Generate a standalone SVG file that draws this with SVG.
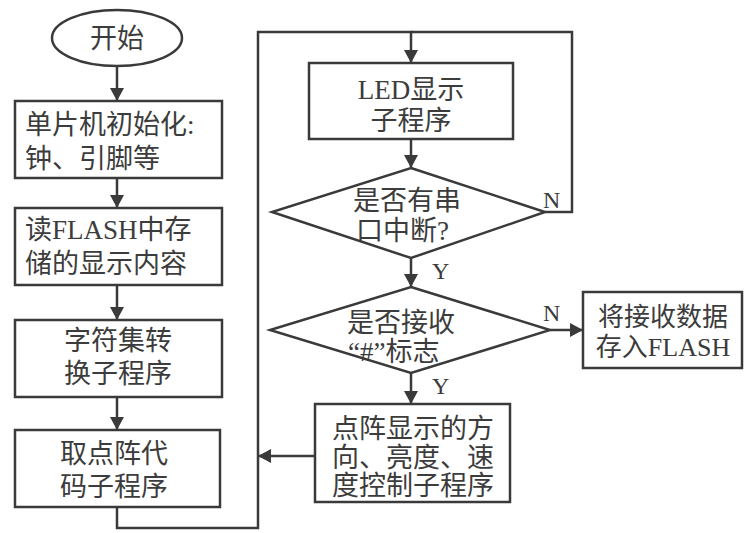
<svg xmlns="http://www.w3.org/2000/svg" width="747" height="533" viewBox="0 0 747 533">
<defs>
<style>
.shape{fill:none;stroke:#3a3a3a;stroke-width:2.5}
.conn{fill:none;stroke:#3a3a3a;stroke-width:2.5}
.t{font-family:"Liberation Serif","Noto Sans CJK SC",serif;font-size:27px;fill:#3c3c3c}
.s{font-size:26px}
.m{text-anchor:middle}
.lbl{font-family:"Liberation Serif",serif;font-size:24px;fill:#3c3c3c}
</style>
<marker id="ah" markerUnits="userSpaceOnUse" markerWidth="14" markerHeight="14" refX="12" refY="7" orient="auto">
<path d="M0,0 L13,7 L0,14 Z" fill="#3a3a3a"/>
</marker>
</defs>
<rect width="747" height="533" fill="#ffffff"/>
<g id="connectors">
<path class="conn" d="M117,67 V100" marker-end="url(#ah)"/>
<path class="conn" d="M117,178 V207" marker-end="url(#ah)"/>
<path class="conn" d="M117,285 V319" marker-end="url(#ah)"/>
<path class="conn" d="M117,397 V429" marker-end="url(#ah)"/>
<path class="conn" d="M117,507 V528 H258 V32 H411 V62" marker-end="url(#ah)"/>
<path class="conn" d="M545,212 H572 V32 H411"/>
<path class="conn" d="M411,139 V167" marker-end="url(#ah)"/>
<path class="conn" d="M411,258 V286" marker-end="url(#ah)"/>
<path class="conn" d="M550,330 H582" marker-end="url(#ah)"/>
<path class="conn" d="M411,373 V403" marker-end="url(#ah)"/>
<path class="conn" d="M315,456 H259" marker-end="url(#ah)"/>
<text class="lbl" x="543" y="208">N</text>
<text class="lbl" x="432" y="279">Y</text>
<text class="lbl" x="543" y="321">N</text>
<text class="lbl" x="432" y="394">Y</text>
</g>
<g id="start">
<ellipse class="shape" cx="117" cy="38" rx="65" ry="28"/>
<text class="t m" x="117" y="48">开始</text>
</g>
<g id="init">
<rect class="shape" x="15" y="101" width="207" height="77"/>
<text class="t" x="25" y="134">单片机初始化:</text>
<text class="t" x="25" y="168">钟、引脚等</text>
</g>
<g id="readflash">
<rect class="shape" x="15" y="208" width="207" height="77"/>
<text class="t" x="25" y="239">读FLASH中存</text>
<text class="t" x="25" y="273">储的显示内容</text>
</g>
<g id="charset">
<rect class="shape" x="15" y="320" width="207" height="77"/>
<text class="t m" x="118" y="350">字符集转</text>
<text class="t m" x="118" y="383">换子程序</text>
</g>
<g id="dotmatrix">
<rect class="shape" x="15" y="430" width="205" height="77"/>
<text class="t m" x="114" y="463">取点阵代</text>
<text class="t m" x="114" y="496">码子程序</text>
</g>
<g id="led">
<rect class="shape" x="309" y="63" width="204" height="76"/>
<text class="t m" x="411" y="99">LED显示</text>
<text class="t m" x="411" y="130">子程序</text>
</g>
<g id="serial">
<polygon class="shape" points="411,168 545,212 411,258 272,212"/>
<text class="t" x="353" y="210">是否有串</text>
<text class="t" x="356" y="240">口中断?</text>
</g>
<g id="hash">
<polygon class="shape" points="411,287 550,330 411,373 270,330"/>
<text class="t" x="347" y="332">是否接收</text>
<text class="t" x="348" y="361">“#”标志</text>
</g>
<g id="control">
<rect class="shape" x="315" y="404" width="195" height="98"/>
<text class="t m" x="413" y="438">点阵显示的方</text>
<text class="t m" x="413" y="467">向、亮度、速</text>
<text class="t m" x="413" y="495">度控制子程序</text>
</g>
<g id="store">
<rect class="shape" x="583" y="292" width="159" height="76"/>
<text class="t s m" x="663" y="326">将接收数据</text>
<text class="t s m" x="663" y="356">存入FLASH</text>
</g>
</svg>
